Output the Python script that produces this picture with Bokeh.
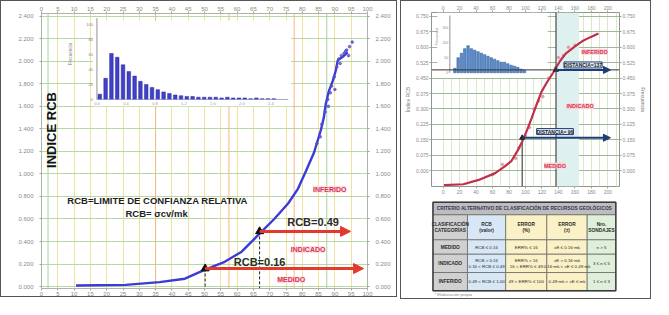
import math
from bokeh.plotting import figure
from bokeh.models import (Range1d, LinearAxis, FixedTicker, Label, Arrow, NormalHead,
                          BoxAnnotation, Span, NumeralTickFormatter)
from bokeh.layouts import row, column
from bokeh.embed import file_html
from bokeh.resources import INLINE
from bokeh.core.properties import value

FONT = "Liberation Sans"

# ======================= DATA =======================
# Left panel: sorted RCB index vs cumulative % of blocks
curve_pct = [10.6, 25.8, 36.2, 44.0, 50.2, 56.2, 61.4, 66.9, 71.4, 75.7, 78.7, 81.2,
             83.6, 85.7, 86.6, 87.2, 88.1, 89.4, 90.3, 90.9, 92.4, 93.9]
curve_rcb = [0.01, 0.015, 0.04, 0.07, 0.15, 0.22, 0.31, 0.47, 0.60, 0.74, 0.87, 1.03,
             1.19, 1.39, 1.50, 1.62, 1.73, 1.83, 1.92, 2.01, 2.04, 2.08]
scatter_pct = [84.5, 85.5, 86.0, 87.0, 87.8, 88.6, 89.0, 89.8, 90.6, 91.2, 92.0, 92.8,
               93.6, 94.5, 95.3, 88.0, 90.0, 91.6, 93.3, 94.2]
scatter_rcb = [1.27, 1.33, 1.44, 1.55, 1.66, 1.72, 1.78, 1.86, 1.95, 2.02, 2.05, 2.07,
               2.10, 2.13, 2.17, 1.60, 1.75, 1.98, 2.09, 2.05]
x_ticks_left = [0, 5, 10, 15, 20, 25, 30, 35, 40, 45, 50, 55, 60, 65, 70, 75, 80, 85, 90, 95, 100]
y_ticks_left = [0.0, 0.2, 0.4, 0.6, 0.8, 1.0, 1.2, 1.4, 1.6, 1.8, 2.0, 2.2, 2.4]
accent_orange = [35, 57.5, 77.5]
accent_green = [2, 87.5]
rcb_levels = [0.16, 0.49]
rcb_pct = [50.2, 66.9]
rcb_text = ["RCB=0.16", "RCB=0.49"]
class_names = ["INFERIDO", "INDICADO", "MEDIDO"]
hist_counts = [7, 28, 61, 56, 46, 37, 31, 24, 20, 16, 13, 10, 8, 6, 5, 4, 4, 3, 3, 3,
               3, 2, 3, 2, 2, 2, 1, 2, 1, 1, 1]
hist_yticks = [0, 20, 40, 60, 80, 100]
hist_xpos = [0, 5, 10, 15, 20, 25, 30]
hist_xlabels = ["0.0", "0.4", "0.8", "1.2", "1.6", "2.0", "2.4"]

# Right panel: RCB vs distance (m)
dist_m = [1.1, 24.6, 43.3, 63.2, 74.9, 83.1, 90.1, 96.0, 101.9, 107.7, 113.6, 119.4,
          125.3, 133.5, 141.7, 148.7, 159.2, 168.6, 178.0, 188.5]
rcb_dist = [-0.07, -0.066, -0.045, -0.012, 0.021, 0.048, 0.095, 0.141, 0.197, 0.258,
            0.323, 0.383, 0.425, 0.476, 0.532, 0.569, 0.602, 0.629, 0.648, 0.667]
r_scatter_x = [60, 72, 88, 92, 100, 105, 110, 116, 121, 128, 136, 140, 146, 152, 160]
r_scatter_y = [-0.02, 0.03, 0.06, 0.11, 0.17, 0.21, 0.30, 0.34, 0.36, 0.45, 0.50, 0.55, 0.56, 0.60, 0.61]
dist_levels = [96, 137]
dist_text = ["DISTANCIA= 96", "DISTANCIA=137"]
r_hist = [15, 50, 65, 80, 90, 80, 75, 70, 65, 60, 55, 50, 45, 40, 35, 35, 30, 25, 22, 18, 12, 8]
r_hist_yticks = [0, 50, 100, 150]
r_x_ticks = [0, 20, 40, 60, 80, 100, 120, 140, 160, 180, 200]
r_x_grid = [0, 10, 20, 30, 40, 50, 60, 70, 80, 90, 100, 110, 120, 130, 140, 150, 160, 170, 180, 190, 200, 210]
r_y_ticks = [0.0, 0.075, 0.15, 0.225, 0.3, 0.375, 0.45, 0.525, 0.6, 0.675, 0.75]

# Table
table_title = "CRITERIO ALTERNATIVO DE CLASIFICACIÓN DE RECURSOS GEOLÓGICOS"
table_header = ["CLASIFICACIÓN\nCATEGORÍAS", "RCB\n(valor)", "ERROR\n(%)", "ERROR\n(±)", "Nro.\nSONDAJES"]
row_medido = ["MEDIDO", "RCB ≤ 0.16", "ERR% ≤ 16", "±E ≤ 0.16·mk", "n > 5"]
row_indicado = ["INDICADO", "RCB > 0.16\n0.16 < RCB ≤ 0.49", "ERR% > 16\n16 < ERR% ≤ 49",
                "±E > 0.16·mk\n0.16·mk < ±E ≤ 0.49·mk", "3 ≤ n ≤ 5"]
row_inferido = ["INFERIDO", "0.49 < RCB ≤ 1.00", "49 < ERR% ≤ 100", "0.49·mk < ±E ≤ mk", "1 ≤ n ≤ 3"]
table_footer = "* Elaboración propia"

# ======================= STYLE HELPERS =======================
RED = "#e23a2e"
NAVY = "#1d3c78"
PINK_TXT = "#d8344e"


def style_axis(ax, size="6px", color="#8a8a8a"):
    ax.major_label_text_font = FONT
    ax.major_label_text_font_size = size
    ax.major_label_text_color = color
    ax.axis_line_color = None
    ax.major_tick_line_color = "#a0a0a0"
    ax.major_tick_out = 2
    ax.major_tick_in = 0
    ax.minor_tick_line_color = None
    ax.major_label_standoff = 1


def lab(p, x, y, text, size, color, bold=True, bg=None, angle=0.0, align="center", border=None):
    l = Label(x=x, y=y, text=text, text_font=FONT, text_font_size=size, text_color=color,
              text_font_style="bold" if bold else "normal", text_align=align,
              text_baseline="middle", angle=angle)
    if bg is not None:
        l.background_fill_color = bg
        l.background_fill_alpha = 1.0
    if border is not None:
        l.border_line_color = border
        l.border_line_width = 1
    p.add_layout(l)
    return l


# ======================= LEFT PANEL =======================
p1 = figure(width=397, height=297, x_range=Range1d(0, 100), y_range=Range1d(-0.017, 2.424),
            output_backend="svg", toolbar_location=None,
            min_border_left=40, min_border_right=31, min_border_top=12, min_border_bottom=9,
            outline_line_color="#a9b7a4", background_fill_color="white", border_fill_color="white",
            styles={"border": "1px solid #555555"})
p1.xaxis.ticker = FixedTicker(ticks=x_ticks_left)
p1.add_layout(LinearAxis(ticker=FixedTicker(ticks=x_ticks_left)), "above")
p1.add_layout(LinearAxis(ticker=FixedTicker(ticks=y_ticks_left)), "right")
p1.yaxis.ticker = FixedTicker(ticks=y_ticks_left)
p1.yaxis.formatter = NumeralTickFormatter(format="0.000")
for ax in p1.axis:
    style_axis(ax, "6px")
p1.yaxis.major_label_standoff = 6
p1.xgrid.ticker = FixedTicker(ticks=x_ticks_left)
p1.xgrid.grid_line_color = "#eee39a"
p1.ygrid.ticker = FixedTicker(ticks=y_ticks_left)
p1.ygrid.grid_line_color = "#b7d8a4"

for xv in accent_orange:
    p1.add_layout(Span(location=xv, dimension="height", line_color="#f2b880", line_width=1, level="underlay"))
for xv in accent_green:
    p1.add_layout(Span(location=xv, dimension="height", line_color="#a9d39c", line_width=1, level="underlay"))

# white inset background
p1.add_layout(BoxAnnotation(left=15.8, right=76.6, bottom=1.60, top=2.36, fill_color="white",
                            fill_alpha=1.0, line_color=None, level="underlay"))

ins = p1.subplot(x_source=Range1d(0, 33), y_source=Range1d(0, 100),
                 x_target=Range1d(17.0, 75.7), y_target=Range1d(1.661, 2.33))
ins.vbar(x=[i + 0.5 for i in range(len(hist_counts))], top=hist_counts, width=0.62,
         fill_color="#4040c8", line_color="#2a2a9a", line_width=0.5)
ins.line(x=[0, 0], y=[0, 108], line_color="#777777", line_width=0.8)
ins.line(x=[0, 33], y=[0, 0], line_color="#9090c0", line_width=0.8)
ins.text(x=[-0.7] * len(hist_yticks), y=hist_yticks, text=[str(v) for v in hist_yticks],
         text_font=value(FONT), text_font_size=value("4px"), text_color="#888888",
         text_align="right", text_baseline="middle")
ins.text(x=hist_xpos, y=[-5] * len(hist_xpos), text=hist_xlabels,
         text_font=value(FONT), text_font_size=value("4px"), text_color="#9a9a9a",
         text_align="center", text_baseline="middle")
ins.text(x=[-4.6], y=[60], text=["Frecuencia"], angle=math.pi / 2,
         text_font=value(FONT), text_font_size=value("4.5px"), text_color="#888888",
         text_align="center", text_baseline="middle")

# curve + points
p1.line(curve_pct, curve_rcb, line_color="#3b3bd6", line_width=2.4)
p1.scatter(scatter_pct, scatter_rcb, size=2.6, color="#5a4fc8", alpha=0.8)

# RCB thresholds
p1.segment(x0=rcb_pct, y0=rcb_levels, x1=rcb_pct, y1=[-0.017] * len(rcb_pct),
           line_color="#222222", line_dash="3 2", line_width=1)
arrow_end = [98.8, 94.8]
for xs, ys, xe in zip(rcb_pct, rcb_levels, arrow_end):
    p1.add_layout(Arrow(end=NormalHead(size=10, fill_color=RED, line_color=RED),
                        x_start=xs, y_start=ys, x_end=xe, y_end=ys,
                        line_color=RED, line_width=3))
p1.scatter(rcb_pct, rcb_levels, marker="triangle", size=8, color="#111111")

lab(p1, 66.9, 0.215, rcb_text[0], "11px", "#223322")
lab(p1, 83.3, 0.57, rcb_text[1], "11px", "#2a2a2a")

lab(p1, 88.4, 0.864, class_names[0], "7px", PINK_TXT, bg="#fbe3e8")
lab(p1, 81.8, 0.33, class_names[1], "7px", PINK_TXT, bg="#fbe3e8")
lab(p1, 76.6, 0.059, class_names[2], "7px", PINK_TXT, bg="#fbe3e8")

lab(p1, 3.0, 1.39, "INDICE RCB", "13px", "#111111", angle=math.pi / 2)
lab(p1, 35.6, 0.76, "RCB=LIMITE DE CONFIANZA RELATIVA", "9.5px", "#1e1e1e")
lab(p1, 35.3, 0.65, "RCB= σcv/mk", "9.5px", "#1e1e1e")

# ======================= RIGHT PANEL (plot) =======================
p2 = figure(width=249, height=195, x_range=Range1d(-14, 214), y_range=Range1d(-0.077, 0.769),
            output_backend="svg", toolbar_location=None,
            min_border_left=29, min_border_right=31, min_border_top=11, min_border_bottom=8,
            outline_line_color="#8a9a86", background_fill_color="white", border_fill_color="white")
p2.xaxis.ticker = FixedTicker(ticks=r_x_ticks)
p2.add_layout(LinearAxis(ticker=FixedTicker(ticks=r_x_ticks)), "above")
p2.add_layout(LinearAxis(ticker=FixedTicker(ticks=r_y_ticks), axis_label="Frecuencia"), "right")
p2.yaxis.ticker = FixedTicker(ticks=r_y_ticks)
p2.yaxis.formatter = NumeralTickFormatter(format="0.000")
p2.yaxis[0].axis_label = "Índice RCB"
for ax in p2.axis:
    style_axis(ax, "5px")
    ax.axis_label_text_font = FONT
    ax.axis_label_text_font_size = "5px"
    ax.axis_label_text_color = "#777777"
    ax.axis_label_text_font_style = "normal"
    ax.axis_label_standoff = 2
p2.xgrid.ticker = FixedTicker(ticks=r_x_grid)
p2.xgrid.grid_line_color = "#dbe7c6"
p2.ygrid.ticker = FixedTicker(ticks=r_y_ticks)
p2.ygrid.grid_line_color = "#9fb79a"

p2.add_layout(BoxAnnotation(left=137, right=165, fill_color="#dff1ee", fill_alpha=1.0,
                            line_color=None, level="underlay"))
p2.add_layout(BoxAnnotation(left=-7, right=127, bottom=0.45, top=0.769, fill_color="white",
                            fill_alpha=1.0, line_color=None, level="underlay"))

ins2 = p2.subplot(x_source=Range1d(0, 22), y_source=Range1d(0, 200),
                  x_target=Range1d(12.3, 100.7), y_target=Range1d(0.476, 0.769))
ins2.vbar(x=[i + 0.5 for i in range(len(r_hist))], top=r_hist, width=0.75,
          fill_color="#5d8fcf", line_color="#24508f", line_width=0.5)
ins2.line(x=[-1, -1], y=[0, 190], line_color="#777777", line_width=0.8)
ins2.text(x=[-1.5] * len(r_hist_yticks), y=r_hist_yticks, text=[str(v) for v in r_hist_yticks],
          text_font=value(FONT), text_font_size=value("3.5px"), text_color="#888888",
          text_align="right", text_baseline="middle")
ins2.text(x=[-4.8], y=[120], text=["Frecuencia"], angle=math.pi / 2,
          text_font=value(FONT), text_font_size=value("3.5px"), text_color="#888888",
          text_align="center", text_baseline="middle")

p2.add_layout(Span(location=dist_levels[1], dimension="height", line_color="#4a4a4a", line_width=1.2))
p2.segment(x0=[dist_levels[0]], y0=[-0.077], x1=[dist_levels[0]], y1=[rcb_levels[0]],
           line_color="#4a4a4a", line_width=1.2)
p2.add_layout(Span(location=rcb_levels[1], dimension="width", line_color="#333333", line_width=1))

p2.scatter(r_scatter_x, r_scatter_y, size=2.5, color="#e58aa0", alpha=0.8)
p2.line(dist_m, rcb_dist, line_color="#c0304a", line_width=2.2)

for xs, ys in zip(dist_levels, rcb_levels):
    p2.add_layout(Arrow(end=NormalHead(size=7, fill_color=NAVY, line_color=NAVY),
                        x_start=xs, y_start=ys, x_end=203, y_end=ys,
                        line_color=NAVY, line_width=2))
p2.scatter(dist_levels, rcb_levels, marker="triangle", size=5, color="#222222")

lab(p2, 135.8, 0.19, dist_text[0], "5px", "#1a1a1a", bg="#dfe9f3", border=NAVY)
lab(p2, 169.8, 0.514, dist_text[1], "5px", "#1a1a1a", bg="#dfe9f3", border=NAVY)
lab(p2, 183.8, 0.578, class_names[0], "5.5px", PINK_TXT, bg="#f9d3da")
lab(p2, 166.3, 0.313, class_names[1], "5.5px", PINK_TXT, bg="#f9d3da")
lab(p2, 135.8, 0.025, class_names[2], "5.5px", PINK_TXT, bg="#f9d3da")

# ======================= RIGHT PANEL (table) =======================
p3 = figure(width=249, height=102, x_range=Range1d(0, 256), y_range=Range1d(106, 0),
            output_backend="svg", toolbar_location=None, min_border=0,
            outline_line_color=None, background_fill_color="white", border_fill_color="white")
p3.axis.visible = False
p3.xgrid.visible = False
p3.ygrid.visible = False

col_edges = [2, 49, 101, 157, 212, 251]
row_edges = [6, 19, 45, 60, 79, 98]
col_fills = ["#d0d0d0", "#d8e7f5", "#fbf1c6", "#fbf1c6", "#dff0da"]

# title row
p3.quad(left=[col_edges[0]], right=[col_edges[-1]], top=[row_edges[0]], bottom=[row_edges[1]],
        fill_color="#bdbdbd", line_color="#5a5a5a", line_width=0.8)
p3.text(x=[(col_edges[0] + col_edges[-1]) / 2], y=[(row_edges[0] + row_edges[1]) / 2],
        text=[table_title], text_font=value(FONT), text_font_size=value("4.8px"),
        text_font_style="bold", text_color="#33335a", text_align="center", text_baseline="middle")

body = [table_header, row_medido, row_indicado, row_inferido]
L, R, T, B, F = [], [], [], [], []
tx, ty, tt, tstyle = [], [], [], []
for ri, cells in enumerate(body):
    for ci, txt in enumerate(cells):
        L.append(col_edges[ci]); R.append(col_edges[ci + 1])
        T.append(row_edges[ri + 1]); B.append(row_edges[ri + 2])
        F.append(col_fills[ci])
        tx.append((col_edges[ci] + col_edges[ci + 1]) / 2)
        ty.append((row_edges[ri + 1] + row_edges[ri + 2]) / 2)
        tt.append(txt)
        tstyle.append("bold" if (ri == 0 or ci == 0) else "normal")
p3.quad(left=L, right=R, top=T, bottom=B, fill_color=F, line_color="#6a6a6a", line_width=0.8)
bold_idx = [i for i, s in enumerate(tstyle) if s == "bold"]
norm_idx = [i for i, s in enumerate(tstyle) if s != "bold"]
p3.text(x=[tx[i] for i in bold_idx], y=[ty[i] for i in bold_idx], text=[tt[i] for i in bold_idx],
        text_font=value(FONT), text_font_size=value("4.8px"), text_font_style="bold",
        text_color="#2a2a2a", text_align="center", text_baseline="middle")
p3.text(x=[tx[i] for i in norm_idx], y=[ty[i] for i in norm_idx], text=[tt[i] for i in norm_idx],
        text_font=value(FONT), text_font_size=value("4.4px"),
        text_color="#2a2a2a", text_align="center", text_baseline="middle")
p3.quad(left=[col_edges[0]], right=[col_edges[-1]], top=[row_edges[0]], bottom=[row_edges[-1]],
        fill_alpha=0, line_color="#3a3a3a", line_width=1.4)
p3.text(x=[col_edges[0] + 2], y=[row_edges[-1] + 4], text=[table_footer],
        text_font=value(FONT), text_font_size=value("4.2px"), text_color="#8a8a8a",
        text_align="left", text_baseline="middle")

right_col = column(p2, p3, spacing=0, styles={"border": "1px solid #555555"})
layout = row(p1, right_col, spacing=3)

open("out.html", "w").write(file_html(layout, INLINE))
